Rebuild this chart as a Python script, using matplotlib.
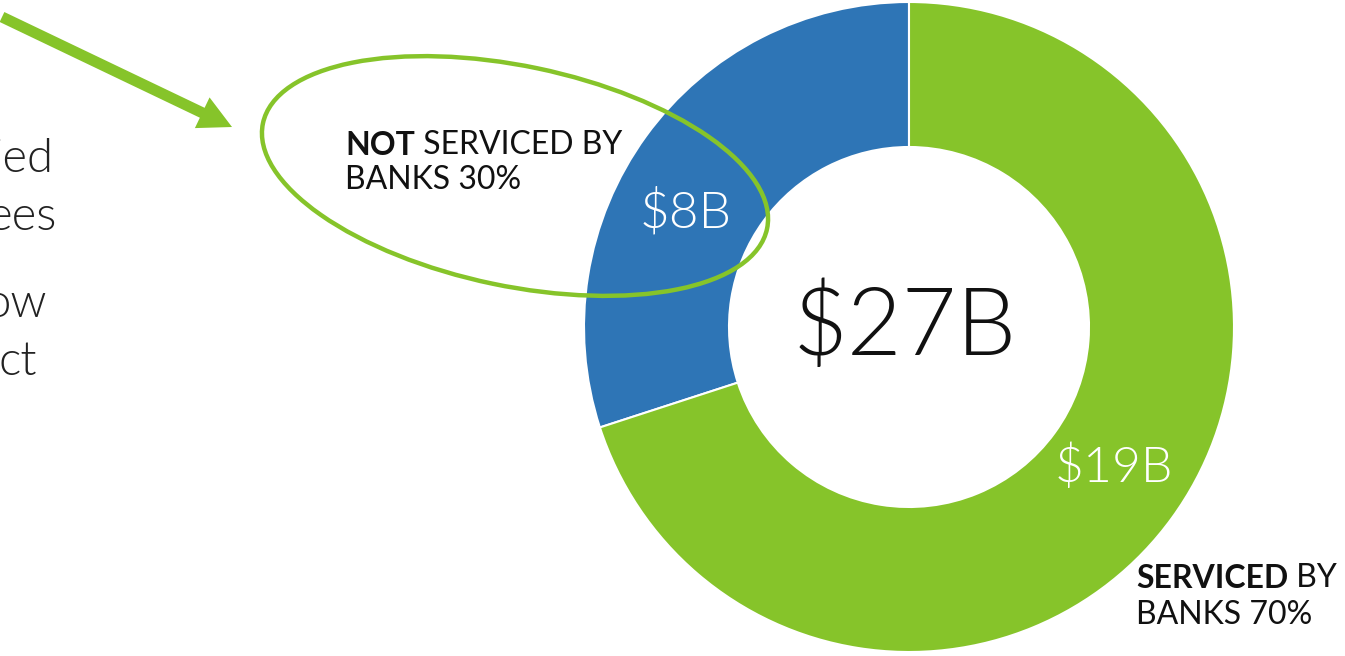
import matplotlib.pyplot as plt
from matplotlib.patches import Ellipse, FancyArrow

# slice data
segments = ["NOT serviced by banks", "Serviced by banks"]
shares = [30, 70]
amounts = ["$8B", "$19B"]
total = "$27B"
colors = ["#2E75B6", "#86C42A"]

# cut-off text fragments at the left edge of the slide
left_fragments = ["ied", "ees", "ow", "ct"]

W, H = 1345, 656


def y(py):
    # image pixel row -> data y (y axis points up)
    return H - py


fig = plt.figure(figsize=(W / 100, H / 100), dpi=100)
ax = fig.add_axes([0, 0, 1, 1])

ax.pie(shares, colors=colors, startangle=90, counterclock=True,
       center=(909, y(327)), radius=325,
       wedgeprops=dict(width=145, edgecolor="white", linewidth=1.5))
ax.set_xlim(0, W)
ax.set_ylim(0, H)
ax.set_aspect("auto")
ax.axis("off")

font = "Lato"
LIGHT = 300

ax.text(905, y(355), total, fontsize=68, family=font, fontweight=LIGHT,
        ha="center", va="baseline", color="#111111", parse_math=False)
ax.text(640, y(227), amounts[0], fontsize=37, family=font, fontweight=LIGHT,
        ha="left", va="baseline", color="white", parse_math=False)
ax.text(1055, y(482), amounts[1], fontsize=36, family=font, fontweight=LIGHT,
        ha="left", va="baseline", color="white", parse_math=False)


# segment captions with a bold first word
def caption(x, py1, py2, bold, rest, line2):
    t = ax.text(x, y(py1), bold, fontsize=23, family=font, fontweight="bold",
                ha="left", va="baseline", color="#111111")
    ax.annotate(rest, xy=(1, 0), xycoords=t, fontsize=23, family=font,
                ha="left", va="bottom", color="#111111")
    ax.text(x, y(py2), line2, fontsize=23, family=font,
            ha="left", va="baseline", color="#111111")


caption(345, 155, 189, "NOT", " SERVICED BY", "BANKS 30%")
caption(1136, 588, 624, "SERVICED", " BY", "BANKS 70%")

# green ellipse around the 30% caption
ax.add_patch(Ellipse((515, y(176)), 515, 220, angle=-11.8, fill=False,
                     edgecolor=colors[1], linewidth=3.2, zorder=5))

# green arrow pointing at the ellipse
x0, y0 = 2, y(17)
x1, y1 = 232, y(127)
ax.add_patch(FancyArrow(x0, y0, x1 - x0, y1 - y0, width=11, head_width=34,
                        head_length=33, length_includes_head=True,
                        color=colors[1], linewidth=0, zorder=5))

# left text, cut off by the slide edge
left_x = [54, 57, 47, 37]
left_base = [172, 230, 317, 375]
for frag, lx, lb in zip(left_fragments, left_x, left_base):
    ax.text(lx, y(lb), frag, fontsize=34, family=font, fontweight=LIGHT,
            ha="right", va="baseline", color="#222222")

fig.savefig("out.png", dpi=100)
